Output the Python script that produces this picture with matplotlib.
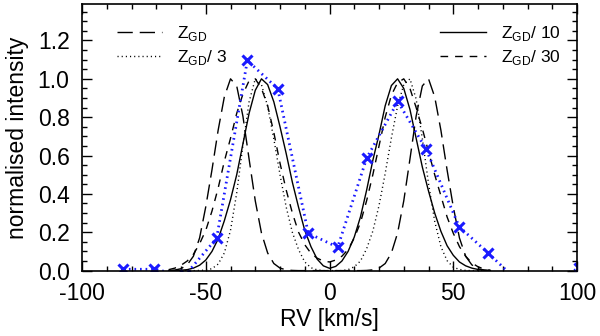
import numpy as np
import matplotlib
matplotlib.use("Agg")
import matplotlib.pyplot as plt
from matplotlib.ticker import MultipleLocator

plt.rcParams['font.family'] = ['Liberation Sans', 'DejaVu Sans']
plt.rcParams['mathtext.fontset'] = 'custom'
plt.rcParams['mathtext.rm'] = 'Liberation Sans'
plt.rcParams['lines.scale_dashes'] = False
plt.rcParams['axes.unicode_minus'] = False

# velocity grid of the model profiles [km/s]
rv = [-65, -62.5, -60, -57.5, -55, -52.5, -50, -47.5, -45, -42.5, -40, -37.5,
      -35, -32.5, -30, -27.5, -25, -22.5, -20, -17.5, -15, -12.5, -10, -7.5,
      -5, -2.5, 0, 2.5, 5, 7.5, 10, 12.5, 15, 17.5, 20, 22.5, 25, 27.5, 30,
      32.5, 35, 37.5, 40, 42.5, 45, 47.5, 50, 52.5, 55, 57.5, 60, 62.5, 65]

# Z_GD (long dashes)
prof_z1 = [0, 0.003, 0.01, 0.03, 0.075, 0.17, 0.333, 0.525, 0.732, 0.906, 1.0, 0.963,
           0.806, 0.582, 0.364, 0.196, 0.092, 0.037, 0.013, 0.004, 0.001, 0, 0, 0,
           0, 0, 0, 0, 0, 0, 0, 0, 0.001, 0.004, 0.013, 0.037, 0.092, 0.196, 0.364,
           0.582, 0.806, 0.963, 1.0, 0.906, 0.732, 0.525, 0.333, 0.17, 0.075, 0.03, 0.01, 0.003, 0]
# Z_GD / 3 (dotted)
prof_z3 = [0, 0, 0, 0, 0, 0.001, 0.003, 0.01, 0.034, 0.092, 0.21, 0.405,
           0.652, 0.88, 1.0, 0.97, 0.856, 0.686, 0.5, 0.331, 0.199, 0.109, 0.045, 0.015,
           0.004, 0, 0, 0, 0, 0.005, 0.02, 0.05, 0.114, 0.206, 0.339, 0.507, 0.692, 0.858, 0.97,
           1.0, 0.895, 0.689, 0.454, 0.257, 0.125, 0.052, 0.018, 0.006, 0.001, 0, 0, 0, 0]
# Z_GD / 10 (solid)
prof_z10 = [0, 0, 0.002, 0.005, 0.013, 0.028, 0.055, 0.1, 0.165, 0.26, 0.37, 0.5,
            0.66, 0.82, 0.94, 1.0, 0.97, 0.88, 0.75, 0.61, 0.46, 0.33, 0.21, 0.125,
            0.06, 0.025, 0.012, 0.022, 0.05, 0.1, 0.175, 0.28, 0.42, 0.575, 0.71, 0.86, 0.965, 1.0, 0.95,
            0.84, 0.69, 0.54, 0.415, 0.3, 0.205, 0.13, 0.08, 0.045, 0.025, 0.013, 0.006, 0.002, 0]
# Z_GD / 30 (short dashes)
prof_z30 = [0.005, 0.013, 0.028, 0.05, 0.085, 0.14, 0.21, 0.31, 0.43, 0.57, 0.69, 0.82,
            0.92, 0.99, 1.0, 0.95, 0.86, 0.72, 0.56, 0.42, 0.30, 0.2, 0.135, 0.09,
            0.065, 0.05, 0.045, 0.055, 0.075, 0.11, 0.17, 0.25, 0.365, 0.5, 0.65, 0.8, 0.915, 0.98, 1.0,
            0.95, 0.85, 0.74, 0.62, 0.5, 0.39, 0.28, 0.195, 0.125, 0.075, 0.04, 0.02, 0.008, 0.002]

# observed profile (blue crosses)
obs_rv = [-83.3, -70.9, -58.4, -45.6, -33.2, -20.9, -8.6, 3.3, 15.0, 27.6,
          39.0, 52.4, 64.2, 76.5, 88.8, 101.0]
obs_int = [0.007, 0.007, -0.025, 0.169, 1.096, 0.948, 0.195, 0.122, 0.586, 0.882,
           0.633, 0.229, 0.090, -0.06, -0.05, 0.012]

fig = plt.figure(figsize=(6, 3.36), dpi=100)
ax = fig.add_axes([0.1367, 0.1946, 0.825, 0.7934])

l1, = ax.plot(rv, prof_z1, color='black', lw=1.0, dashes=(11, 5))
l3, = ax.plot(rv, prof_z3, color='black', lw=1.0, dashes=(0.8, 2.2))
l10, = ax.plot(rv, prof_z10, color='black', lw=1.0)
l30, = ax.plot(rv, prof_z30, color='black', lw=1.0, dashes=(5.5, 5))
ax.plot(obs_rv, obs_int, color='#1a1aff', lw=2.0, dashes=(1.2, 2.8),
        marker='x', ms=7, mew=2.2)

ax.set_xlim(-100, 100)
ax.set_ylim(0, 1.39)
ax.xaxis.set_major_locator(MultipleLocator(50))
ax.xaxis.set_minor_locator(MultipleLocator(10))
ax.yaxis.set_major_locator(MultipleLocator(0.2))
ax.yaxis.set_minor_locator(MultipleLocator(0.05))
ax.yaxis.set_major_formatter(matplotlib.ticker.FormatStrFormatter('%.1f'))
ax.tick_params(which='both', direction='in', top=True, right=True, labelsize=16.5)
ax.tick_params(which='major', length=7, width=1.0, pad=8)
ax.tick_params(which='minor', length=3.5, width=1.0)
ax.tick_params(axis='y', pad=9)
for s in ax.spines.values():
    s.set_linewidth(1.2)

ax.set_xlabel('RV [km/s]', fontsize=16.5, labelpad=2)
ax.set_ylabel('normalised intensity', fontsize=16.5, labelpad=6)

# lift the 0.0 label off the corner like the original
ax.yaxis.get_major_ticks()[0].label1.set_verticalalignment('bottom')

leg1 = ax.legend([l1, l3], ['Z$_\\mathrm{GD}$', 'Z$_\\mathrm{GD}$/ 3'],
                 loc='upper left', bbox_to_anchor=(0.07, 0.925), frameon=False,
                 fontsize=12.5, handlelength=2.6, handletextpad=0.9,
                 labelspacing=0.3, borderpad=0, borderaxespad=0)
ax.add_artist(leg1)
ax.legend([l10, l30], ['Z$_\\mathrm{GD}$/ 10', 'Z$_\\mathrm{GD}$/ 30'],
          loc='upper left', bbox_to_anchor=(0.724, 0.925), frameon=False,
          fontsize=12.5, handlelength=2.6, handletextpad=0.9,
          labelspacing=0.3, borderpad=0, borderaxespad=0)

fig.savefig('out.png', dpi=100)
